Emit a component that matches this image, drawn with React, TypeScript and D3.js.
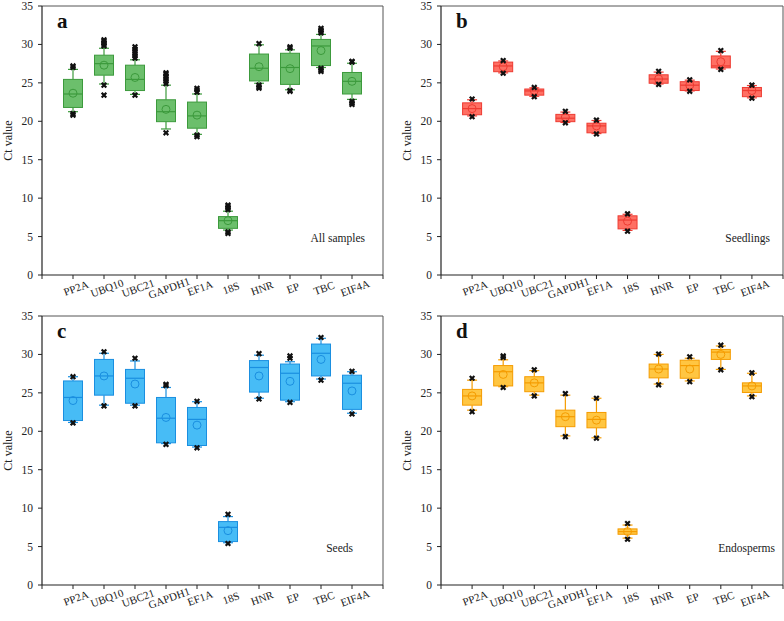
import React from 'react';
import * as d3 from 'd3';

const categories = ['PP2A', 'UBQ10', 'UBC21', 'GAPDH1', 'EF1A', '18S', 'HNR', 'EP', 'TBC', 'EIF4A'];
const yTicks = [0, 5, 10, 15, 20, 25, 30, 35];

// a: all samples
const aQ1 = [21.8, 26.0, 24.0, 19.95, 19.1, 6.07, 25.25, 24.8, 27.25, 23.55];
const aQ3 = [25.45, 28.6, 27.3, 22.8, 22.5, 7.6, 28.75, 28.85, 30.65, 26.35];
const aMedian = [23.55, 27.5, 25.45, 21.25, 20.7, 7.07, 26.9, 27.0, 29.8, 25.2];
const aMean = [23.65, 27.3, 25.7, 21.55, 20.8, 7.07, 27.1, 26.85, 29.2, 25.2];
const aLow = [21.25, 24.85, 23.5, 19.0, 18.3, 5.85, 24.95, 24.1, 27.0, 22.85];
const aHigh = [26.75, 29.5, 28.0, 24.7, 23.55, 8.3, 29.95, 29.3, 31.3, 27.55];
const aOutliers = [
  [27.0, 27.2, 21.0, 20.8],
  [29.8, 30.0, 30.2, 30.4, 30.6, 24.7, 23.4],
  [28.2, 28.5, 28.8, 29.1, 29.4, 29.7, 23.4],
  [24.9, 25.2, 25.5, 25.8, 26.1, 26.3, 18.5],
  [23.8, 24.1, 24.3, 18.0, 18.2],
  [8.5, 8.7, 8.9, 9.1, 5.6, 5.4],
  [30.1, 24.3, 24.5, 24.7],
  [29.5, 29.7, 23.9, 24.0],
  [31.5, 31.7, 31.9, 32.1, 26.5, 26.7, 26.9],
  [27.7, 27.8, 22.6, 22.4, 22.2],
];

// b: seedlings
const bQ1 = [20.85, 26.45, 23.4, 19.95, 18.5, 6.0, 24.95, 24.0, 26.95, 23.2];
const bQ3 = [22.4, 27.7, 24.2, 20.9, 19.75, 7.7, 26.05, 25.15, 28.5, 24.4];
const bMedian = [21.65, 27.2, 23.95, 20.4, 19.4, 7.15, 25.5, 24.7, 27.2, 24.0];
const bMean = [21.65, 27.1, 24.0, 20.55, 19.4, 7.0, 25.5, 24.7, 27.75, 24.0];
const bLow = [20.7, 26.3, 23.25, 19.85, 18.4, 5.8, 24.85, 23.95, 26.8, 23.05];
const bHigh = [22.8, 27.85, 24.35, 21.2, 20.1, 7.9, 26.4, 25.35, 29.1, 24.65];
const bOutliers = [
  [22.9, 20.6], [27.9, 26.25], [24.4, 23.2], [21.3, 19.8], [20.15, 18.35],
  [7.95, 5.7], [26.5, 24.8], [25.4, 23.9], [29.2, 26.75], [24.7, 23.0],
];

// c: seeds
const cQ1 = [21.4, 24.7, 23.65, 18.5, 18.15, 5.65, 25.1, 24.05, 27.2, 22.85];
const cQ3 = [26.55, 29.35, 28.05, 24.4, 23.1, 8.25, 29.2, 28.75, 31.35, 27.3];
const cMedian = [24.4, 27.2, 26.9, 21.7, 21.55, 7.5, 28.3, 27.55, 30.15, 26.25];
const cMean = [24.0, 27.2, 26.15, 21.8, 20.8, 7.07, 27.2, 26.5, 29.35, 25.25];
const cLow = [21.15, 23.4, 23.4, 18.4, 17.95, 5.5, 24.3, 23.85, 26.8, 22.35];
const cHigh = [27.1, 30.15, 29.15, 25.7, 23.85, 8.9, 29.9, 29.05, 32.1, 27.75];
const cOutliers = [
  [27.1, 21.1], [30.35, 23.3], [29.5, 23.3], [26.1, 25.95, 18.3], [23.9, 17.85],
  [9.2, 5.4], [30.1, 24.2], [29.5, 29.8, 23.75], [32.2, 26.65], [27.8, 22.25],
];

// d: endosperms
const dQ1 = [23.4, 25.9, 25.15, 20.6, 20.45, 6.6, 26.95, 26.9, 29.35, 25.05];
const dQ3 = [25.45, 28.55, 27.1, 22.75, 22.45, 7.3, 28.75, 29.25, 30.65, 26.3];
const dMedian = [24.6, 27.75, 26.3, 21.9, 21.55, 6.95, 28.1, 28.55, 30.3, 25.9];
const dMean = [24.6, 27.4, 26.3, 21.9, 21.45, 6.95, 28.1, 28.1, 30.0, 25.9];
const dLow = [22.75, 25.8, 24.7, 19.4, 19.15, 6.1, 26.15, 26.55, 28.05, 24.6];
const dHigh = [26.65, 29.3, 27.9, 24.7, 24.3, 7.8, 30.0, 29.5, 31.1, 27.55];
const dOutliers = [
  [26.9, 22.55], [29.8, 29.6, 25.7], [28.0, 24.6], [24.9, 19.3], [24.3, 19.1],
  [8.0, 5.95], [30.05, 26.05], [29.7, 26.45], [31.2, 28.0], [27.6, 24.5],
];

const panels = [
  { letter: 'a', label: 'All samples', fill: '#5cb85c', stroke: '#3c9a3c', left: 42, right: 383, top: 6, bottom: 275, labelEnd: 365,
    q1: aQ1, q3: aQ3, median: aMedian, mean: aMean, low: aLow, high: aHigh, outliers: aOutliers },
  { letter: 'b', label: 'Seedlings', fill: '#ff5f52', stroke: '#ee3b32', left: 441, right: 783, top: 6, bottom: 275, labelEnd: 770,
    q1: bQ1, q3: bQ3, median: bMedian, mean: bMean, low: bLow, high: bHigh, outliers: bOutliers },
  { letter: 'c', label: 'Seeds', fill: '#33b5f5', stroke: '#1a8fe0', left: 42, right: 383, top: 316, bottom: 585, labelEnd: 353,
    q1: cQ1, q3: cQ3, median: cMedian, mean: cMean, low: cLow, high: cHigh, outliers: cOutliers },
  { letter: 'd', label: 'Endosperms', fill: '#ffc02e', stroke: '#f59c00', left: 441, right: 783, top: 316, bottom: 585, labelEnd: 775,
    q1: dQ1, q3: dQ3, median: dMedian, mean: dMean, low: dLow, high: dHigh, outliers: dOutliers },
];

const font = '"Liberation Serif", "Times New Roman", serif';
const crossPath = d3.symbol(d3.symbolCross, 24)();

function Panel({ p }) {
  const x = d3.scaleLinear().domain([0, categories.length + 1]).range([p.left, p.right]);
  const y = d3.scaleLinear().domain([0, 35]).range([p.bottom, p.top]);
  const boxW = 19;
  const capW = 10;
  const xTicks = d3.range(0, categories.length + 2);

  return (
    <g fontFamily={font}>
      {/* frame */}
      <line x1={p.left} x2={p.right} y1={p.top} y2={p.top} stroke="#555" strokeWidth={1} />
      <line x1={p.right} x2={p.right} y1={p.top} y2={p.bottom} stroke="#555" strokeWidth={1} />
      <line x1={p.left} x2={p.left} y1={p.top} y2={p.bottom} stroke="#222" strokeWidth={1.2} />
      <line x1={p.left} x2={p.right} y1={p.bottom} y2={p.bottom} stroke="#222" strokeWidth={1.2} />

      {yTicks.map((t) => (
        <g key={t} transform={`translate(${p.left},${y(t)})`}>
          <line x1={-4} x2={0} stroke="#222" />
          <text x={-9} dy="0.35em" textAnchor="end" fontSize={11.5} fill="#222">{t}</text>
        </g>
      ))}
      {xTicks.map((t) => (
        <line key={t} x1={x(t)} x2={x(t)} y1={p.bottom} y2={p.bottom + 4} stroke="#222" />
      ))}
      {categories.map((c, i) => (
        <text key={c} transform={`translate(${x(i + 1) + 3},${p.bottom + 13}) rotate(-20)`}
          textAnchor="middle" dy="0.35em" fontSize={11} fill="#222">{c}</text>
      ))}

      <text transform={`translate(${p.left - 30},${(p.top + p.bottom) / 2}) rotate(-90)`}
        textAnchor="middle" fontSize={12} fill="#222">Ct value</text>
      <text x={p.left + 15} y={p.top + 22} fontSize={21} fontWeight="bold" fill="#111">{p.letter}</text>
      <text x={p.labelEnd} y={p.bottom - 33} textAnchor="end" fontSize={11.5} fill="#222">{p.label}</text>

      {categories.map((c, i) => {
        const cx = x(i + 1);
        return (
          <g key={c}>
            <line x1={cx} x2={cx} y1={y(p.high[i])} y2={y(p.q3[i])} stroke={p.stroke} strokeWidth={1.2} />
            <line x1={cx} x2={cx} y1={y(p.q1[i])} y2={y(p.low[i])} stroke={p.stroke} strokeWidth={1.2} />
            <line x1={cx - capW / 2} x2={cx + capW / 2} y1={y(p.high[i])} y2={y(p.high[i])} stroke={p.stroke} strokeWidth={1.2} />
            <line x1={cx - capW / 2} x2={cx + capW / 2} y1={y(p.low[i])} y2={y(p.low[i])} stroke={p.stroke} strokeWidth={1.2} />
            <rect x={cx - boxW / 2} y={y(p.q3[i])} width={boxW} height={y(p.q1[i]) - y(p.q3[i])}
              fill={p.fill} fillOpacity={0.9} stroke={p.stroke} strokeWidth={1} />
            <line x1={cx - boxW / 2} x2={cx + boxW / 2} y1={y(p.median[i])} y2={y(p.median[i])} stroke={p.stroke} strokeWidth={1.2} />
            <circle cx={cx} cy={y(p.mean[i])} r={4} fill="none" stroke={p.stroke} strokeWidth={1} />
            {p.outliers[i].map((v, j) => (
              <path key={j} d={crossPath} transform={`translate(${cx},${y(v)}) rotate(45)`} fill="#111" />
            ))}
          </g>
        );
      })}
    </g>
  );
}

export default function App() {
  return (
    <svg width={784} height={621} style={{ position: 'absolute', left: 0, top: 0, background: '#fff' }}>
      {panels.map((p) => (
        <Panel key={p.letter} p={p} />
      ))}
    </svg>
  );
}
